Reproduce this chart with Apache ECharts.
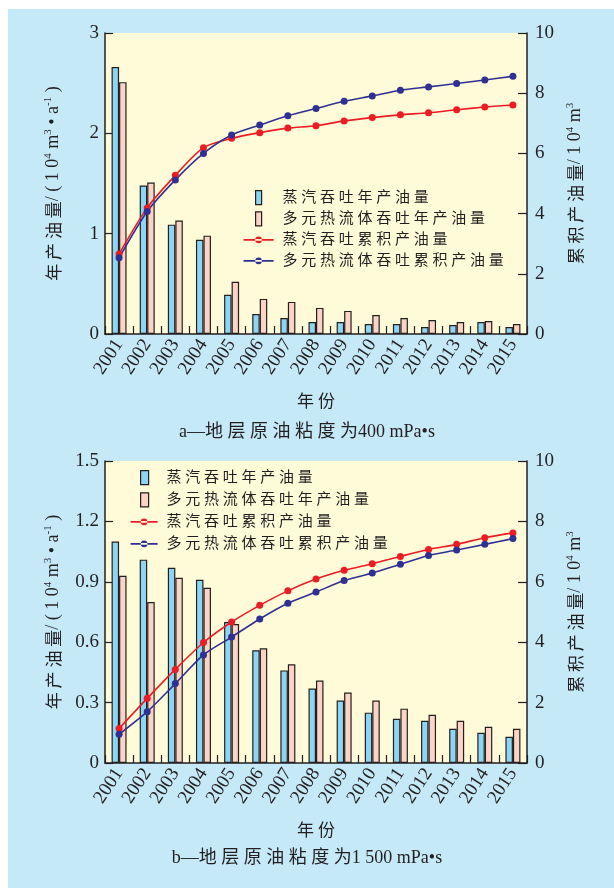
<!DOCTYPE html>
<html>
<head>
<meta charset="utf-8">
<script src="https://cdn.jsdelivr.net/npm/echarts@6/dist/echarts.min.js"></script>
<style>
  html, body { margin: 0; padding: 0; background: #ffffff; }
  #chart { width: 614px; height: 888px; }
</style>
</head>
<body>
<div id="chart"></div>
<script>
// Years on the category axis
const years = ['2001','2002','2003','2004','2005','2006','2007','2008','2009','2010','2011','2012','2013','2014','2015'];

// Panel a: reservoir oil viscosity 400 mPa·s (10^4 m^3)
const steamAnnualA = [2.66, 1.48, 1.09, 0.94, 0.39, 0.20, 0.16, 0.12, 0.12, 0.10, 0.10, 0.07, 0.09, 0.12, 0.07];
const mhfAnnualA   = [2.51, 1.51, 1.13, 0.98, 0.52, 0.35, 0.32, 0.26, 0.23, 0.19, 0.16, 0.14, 0.12, 0.13, 0.10];
const steamCumA    = [2.66, 4.19, 5.27, 6.19, 6.50, 6.69, 6.84, 6.92, 7.08, 7.19, 7.28, 7.35, 7.45, 7.54, 7.61];
const mhfCumA      = [2.53, 4.07, 5.12, 6.00, 6.61, 6.94, 7.25, 7.49, 7.73, 7.91, 8.10, 8.21, 8.32, 8.44, 8.56];

// Panel b: reservoir oil viscosity 1 500 mPa·s (10^4 m^3)
const steamAnnualB = [1.10, 1.01, 0.97, 0.91, 0.70, 0.56, 0.46, 0.37, 0.31, 0.25, 0.22, 0.21, 0.17, 0.15, 0.13];
const mhfAnnualB   = [0.93, 0.80, 0.92, 0.87, 0.69, 0.57, 0.49, 0.41, 0.35, 0.31, 0.27, 0.24, 0.21, 0.18, 0.17];
const steamCumB    = [1.14, 2.14, 3.10, 3.99, 4.67, 5.22, 5.70, 6.09, 6.38, 6.60, 6.84, 7.07, 7.24, 7.46, 7.62];
const mhfCumB      = [0.95, 1.70, 2.63, 3.58, 4.17, 4.77, 5.29, 5.66, 6.04, 6.29, 6.58, 6.87, 7.05, 7.24, 7.43];

// Axis ranges
const annualAxisA = { min: 0, max: 3, interval: 1 };
const annualAxisB = { min: 0, max: 1.5, interval: 0.3 };
const cumAxis = { min: 0, max: 10, interval: 2 };

// Series names
const NAME_STEAM_ANNUAL = '蒸汽吞吐年产油量';
const NAME_MHF_ANNUAL = '多元热流体吞吐年产油量';
const NAME_STEAM_CUM = '蒸汽吞吐累积产油量';
const NAME_MHF_CUM = '多元热流体吞吐累积产油量';

const captionA = 'a—地 层 原 油 粘 度 为400 mPa•s';
const captionB = 'b—地 层 原 油 粘 度 为1 500 mPa•s';

const DARK = '#231f20';
const BLUE_BAR = '#8dd5f5';
const PINK_BAR = '#fcd4c5';
const RED = '#ec1c24';
const NAVY = '#2e3192';
const SERIF = '"Liberation Serif", "Noto Sans CJK SC", serif';
const CJK = '"Noto Sans CJK SC", sans-serif';

const spaced = s => s.split('').join(' ');

const grids = [
  { left: 105, top: 33, width: 422, height: 301 },
  { left: 105, top: 461, width: 422, height: 302 }
];

const nameRich = {
  c: { fontFamily: CJK, fontSize: 17, color: DARK, lineHeight: 21 },
  n: { fontFamily: SERIF, fontSize: 18, color: DARK, lineHeight: 21 },
  s: { fontFamily: SERIF, fontSize: 11, color: DARK, lineHeight: 11, verticalAlign: 'top' }
};

function xAxisFor(gi) {
  return {
    type: 'category', gridIndex: gi, data: years,
    boundaryGap: true,
    axisLine: { show: true, lineStyle: { color: DARK, width: 1.5 } },
    axisTick: { show: true, inside: true, length: 8, interval: 0, lineStyle: { color: DARK, width: 1.2 } },
    axisLabel: { interval: 0, rotate: 57, margin: 7, fontFamily: SERIF, fontSize: 19, color: DARK },
    name: '年 份', nameLocation: 'middle', nameGap: 58,
    nameTextStyle: { fontFamily: CJK, fontSize: 17, color: DARK },
    splitLine: { show: false }
  };
}

function leftAxisFor(gi, range, decimals) {
  return {
    type: 'value', gridIndex: gi, position: 'left',
    min: range.min, max: range.max, interval: range.interval,
    axisLine: { show: true, lineStyle: { color: DARK, width: 1.5 } },
    axisTick: { show: true, inside: true, length: 8, lineStyle: { color: DARK, width: 1.2 } },
    axisLabel: {
      margin: 6, fontFamily: SERIF, fontSize: 19, color: DARK,
      formatter: v => (v === 0 ? '0' : v.toFixed(decimals))
    },
    splitLine: { show: false },
    name: '{c|年 产 油 量}{n|/ ( 1 0}{s|4}{n| m}{s|3}{n| • a}{s|-1}{n| )}',
    nameLocation: 'middle', nameRotate: 90, nameGap: 41,
    nameTextStyle: { rich: nameRich }
  };
}

function rightAxisFor(gi) {
  return {
    type: 'value', gridIndex: gi, position: 'right',
    min: cumAxis.min, max: cumAxis.max, interval: cumAxis.interval,
    axisLine: { show: true, lineStyle: { color: DARK, width: 1.5 } },
    axisTick: { show: true, inside: true, length: 9, lineStyle: { color: DARK, width: 1.2 } },
    axisLabel: { margin: 8, fontFamily: SERIF, fontSize: 19, color: DARK },
    splitLine: { show: false },
    name: '{c|累 积 产 油 量}{n|/ 1 0}{s|4}{n| m}{s|3}',
    nameLocation: 'middle', nameRotate: 90, nameGap: 35,
    nameTextStyle: { rich: nameRich }
  };
}

function barSeries(name, data, color, gi) {
  return {
    name, type: 'bar', xAxisIndex: gi, yAxisIndex: gi * 2, data,
    barWidth: 7.5, barGap: '0%',
    itemStyle: { color, borderColor: DARK, borderWidth: 1.2 },
    z: 2
  };
}

function lineSeries(name, data, color, gi) {
  return {
    name, type: 'line', xAxisIndex: gi, yAxisIndex: gi * 2 + 1, data,
    smooth: 0.25, symbol: 'circle', symbolSize: 7,
    lineStyle: { color, width: 1.6 },
    itemStyle: { color },
    z: 3
  };
}

function legendFor(left, top, iconW, rowGap, rectX0, rectX1) {
  const barIcon = `path://M0,0M${iconW},14M${rectX0},0L${rectX1},0L${rectX1},14L${rectX0},14Z`;
  const c = iconW / 2;
  const lineIcon = `path://M0,0M${iconW},14M0,6.2L${iconW},6.2L${iconW},7.8L0,7.8Z` +
    `M${c - 3.3},7a3.3,3.3 0 1,0 6.6,0a3.3,3.3 0 1,0 -6.6,0Z`;
  return {
    orient: 'vertical', left, top, padding: 0,
    itemWidth: iconW, itemHeight: 14, itemGap: rowGap - 14,
    symbolKeepAspect: false,
    data: [
      { name: NAME_STEAM_ANNUAL, icon: barIcon, itemStyle: { color: BLUE_BAR, borderColor: DARK, borderWidth: 1.2 } },
      { name: NAME_MHF_ANNUAL, icon: barIcon, itemStyle: { color: PINK_BAR, borderColor: DARK, borderWidth: 1.2 } },
      { name: NAME_STEAM_CUM, icon: lineIcon, itemStyle: { color: RED, borderWidth: 0 } },
      { name: NAME_MHF_CUM, icon: lineIcon, itemStyle: { color: NAVY, borderWidth: 0 } }
    ],
    formatter: n => spaced(n),
    textStyle: { fontFamily: SERIF, fontSize: 15, color: DARK, lineHeight: 14, padding: [0, 0, 0, 4] },
    selectedMode: false
  };
}

const option = {
  animation: false,
  backgroundColor: 'transparent',
  graphic: [
    { type: 'rect', left: 8, top: 9, shape: { width: 606, height: 879 }, style: { fill: '#c6e9f8' }, z: -10, silent: true },
    { type: 'text', left: 'center', top: 423, style: { text: captionA, font: '18px ' + SERIF, fill: DARK, textAlign: 'center' } },
    { type: 'text', left: 'center', top: 849, style: { text: captionB, font: '18px ' + SERIF, fill: DARK, textAlign: 'center' } }
  ],
  grid: grids.map(g => Object.assign({ show: true, backgroundColor: '#fffad8', borderWidth: 0, containLabel: false }, g)),
  xAxis: [xAxisFor(0), xAxisFor(1)],
  yAxis: [leftAxisFor(0, annualAxisA, 0), rightAxisFor(0), leftAxisFor(1, annualAxisB, 1), rightAxisFor(1)],
  legend: [
    legendFor(243, 190, 30, 20, 12, 18),
    legendFor(130, 470, 27, 21, 10, 18)
  ],
  series: [
    barSeries(NAME_STEAM_ANNUAL, steamAnnualA, BLUE_BAR, 0),
    barSeries(NAME_MHF_ANNUAL, mhfAnnualA, PINK_BAR, 0),
    lineSeries(NAME_STEAM_CUM, steamCumA, RED, 0),
    lineSeries(NAME_MHF_CUM, mhfCumA, NAVY, 0),
    barSeries(NAME_STEAM_ANNUAL, steamAnnualB, BLUE_BAR, 1),
    barSeries(NAME_MHF_ANNUAL, mhfAnnualB, PINK_BAR, 1),
    lineSeries(NAME_STEAM_CUM, steamCumB, RED, 1),
    lineSeries(NAME_MHF_CUM, mhfCumB, NAVY, 1)
  ]
};

const chart = echarts.init(document.getElementById('chart'));
chart.setOption(option);
</script>
</body>
</html>
